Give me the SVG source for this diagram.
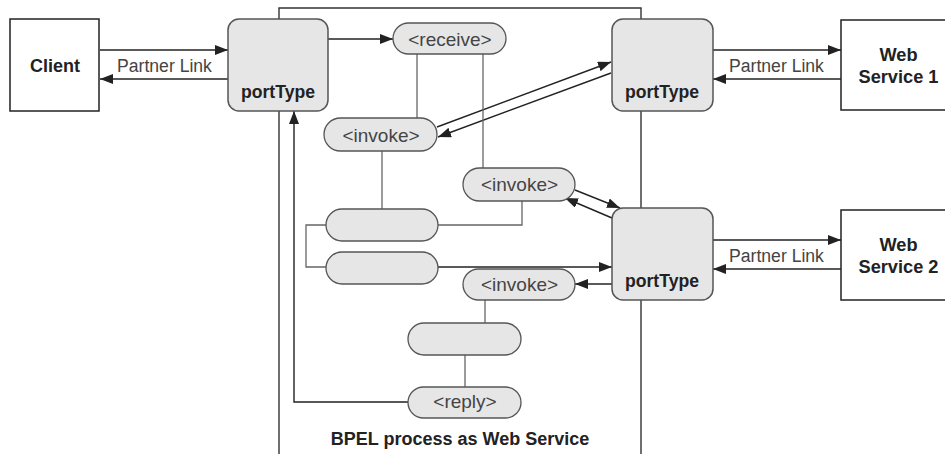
<svg xmlns="http://www.w3.org/2000/svg" width="945" height="454" viewBox="0 0 945 454">
<style>
.box{fill:#fff;stroke:#222;stroke-width:1.5}
.port{fill:#e6e6e7;stroke:#555;stroke-width:1.5}
.pill{fill:#e6e6e7;stroke:#555;stroke-width:1.3}
.arr{fill:none;stroke:#222;stroke-width:1.4;marker-end:url(#ah)}
.tree{fill:none;stroke:#666;stroke-width:1.3}
.border{fill:none;stroke:#333;stroke-width:1.4}
.lbl{font-family:"Liberation Sans",Arial,sans-serif;font-size:17.6px;fill:#444;text-anchor:middle}
.act{font-family:"Liberation Sans",Arial,sans-serif;font-size:19px;fill:#444;text-anchor:middle}
.bold{font-family:"Liberation Sans",Arial,sans-serif;font-size:17.6px;font-weight:bold;fill:#222;text-anchor:middle}
</style>
<defs>
<marker id="ah" markerUnits="userSpaceOnUse" markerWidth="13" markerHeight="10" refX="13" refY="5" orient="auto">
<path d="M0,0 L13,5 L0,10 z" fill="#222"/>
</marker>
</defs>
<rect width="945" height="454" fill="#fff"/>
<g id="bpel-process">
<path class="border" d="M279,454 V8 H641 V454"/>
<text class="bold" x="460" y="445" style="font-size:18px">BPEL process as Web Service</text>
</g>
<g id="connectors">
<path class="arr" d="M100,50 H228"/>
<path class="arr" d="M228,79 H100"/>
<path class="arr" d="M328,39 H393"/>
<path class="arr" d="M437,127 L611,62"/>
<path class="arr" d="M611,73 L438,137"/>
<path class="arr" d="M575,190 L620,208"/>
<path class="arr" d="M612,218 L565,198"/>
<path class="arr" d="M438,267 H612"/>
<path class="arr" d="M612,284 H575"/>
<path class="arr" d="M713,50 H841"/>
<path class="arr" d="M841,79 H713"/>
<path class="arr" d="M713,240 H841"/>
<path class="arr" d="M841,269 H713"/>
<path class="arr" d="M408,402 H294 V111"/>
<path class="tree" d="M417,54 V118"/>
<path class="tree" d="M483,54 V168"/>
<path class="tree" d="M382,151 V209"/>
<path class="tree" d="M522,201 V225 H438"/>
<path class="tree" d="M326,225 H306 V267 H326"/>
<path class="tree" d="M485,300 V323"/>
<path class="tree" d="M465,355 V387"/>
<text class="lbl" x="164.5" y="72">Partner Link</text>
<text class="lbl" x="776.5" y="72">Partner Link</text>
<text class="lbl" x="776.5" y="262">Partner Link</text>
</g>
<g id="client">
<rect class="box" x="10" y="19" width="89" height="92"/>
<text class="bold" x="55" y="71.5" style="font-size:18px">Client</text>
</g>
<g id="porttype-client">
<rect class="port" x="228" y="19" width="100" height="92" rx="11"/>
<text class="bold" x="278" y="98">portType</text>
</g>
<g id="porttype-ws1">
<rect class="port" x="612" y="19" width="101" height="92" rx="11"/>
<text class="bold" x="662" y="98">portType</text>
</g>
<g id="porttype-ws2">
<rect class="port" x="612" y="208" width="101" height="92" rx="11"/>
<text class="bold" x="662" y="287">portType</text>
</g>
<g id="ws1">
<rect class="box" x="841" y="20" width="110" height="90"/>
<text class="bold" x="898.5" y="61" style="font-size:18.2px">Web</text>
<text class="bold" x="898.5" y="83" style="font-size:18.2px">Service 1</text>
</g>
<g id="ws2">
<rect class="box" x="841" y="210" width="110" height="90"/>
<text class="bold" x="898.5" y="251" style="font-size:18.2px">Web</text>
<text class="bold" x="898.5" y="273" style="font-size:18.2px">Service 2</text>
</g>
<g id="receive">
<rect class="pill" x="393" y="23" width="113" height="31" rx="15.5"/>
<text class="act" x="450" y="45.5">&lt;receive&gt;</text>
</g>
<g id="invoke1">
<rect class="pill" x="324" y="118" width="113" height="33" rx="16.5"/>
<text class="act" x="381" y="141.5">&lt;invoke&gt;</text>
</g>
<g id="invoke2">
<rect class="pill" x="463" y="168" width="112" height="33" rx="16.5"/>
<text class="act" x="519.5" y="191">&lt;invoke&gt;</text>
</g>
<g id="seq1">
<rect class="pill" x="326" y="209" width="112" height="32" rx="16"/>
</g>
<g id="seq2">
<rect class="pill" x="326" y="252" width="112" height="32" rx="16"/>
</g>
<g id="invoke3">
<rect class="pill" x="463" y="269" width="112" height="31" rx="15.5"/>
<text class="act" x="519.5" y="291">&lt;invoke&gt;</text>
</g>
<g id="seq3">
<rect class="pill" x="408" y="323" width="113" height="32" rx="16"/>
</g>
<g id="reply">
<rect class="pill" x="408" y="387" width="113" height="31" rx="15.5"/>
<text class="act" x="465" y="408">&lt;reply&gt;</text>
</g>
</svg>
